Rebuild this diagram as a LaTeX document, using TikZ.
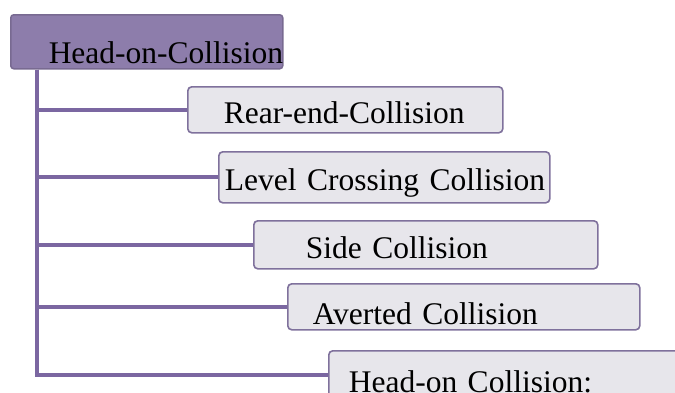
\documentclass[tikz,border=0pt]{standalone}
\usepackage{fontspec}
\setmainfont{Liberation Serif}
\usetikzlibrary{positioning}
\definecolor{trunkpurple}{HTML}{7B67A1}
\definecolor{headfill}{HTML}{8D7DAB}
\definecolor{boxfill}{HTML}{E7E6EB}
\definecolor{boxline}{HTML}{7F719C}

\begin{document}
\begin{tikzpicture}[x=1pt,y=-1pt,%
	rootbox/.style={draw=headfill!85!black,fill=headfill,rounded corners=3pt,line width=1.5pt,anchor=north west,align=left,inner ysep=0pt,font=\fontsize{31.5}{36}\selectfont},
	branch/.style={draw=boxline,fill=boxfill,rounded corners=4pt,line width=1.6pt,anchor=north west,align=left,inner ysep=0pt,font=\fontsize{31.5}{36}\selectfont},
	tree/.style={trunkpurple,line width=4pt}]

	\useasboundingbox (0,0) rectangle (675,392);
	\clip (0,0) rectangle (675,392);

	\node[rootbox,inner xsep=38pt,text width=196pt,text height=49pt,text depth=5pt](root) at (10,14) {\mbox{Head-on-Collision}};

	% boxes: name/left/top/width/text offset/text height/text depth/text
	\foreach \nm/\bx/\by/\bw/\tx/\th/\td/\txt in {%
		rear/187/86/315/36/37/9/Rear-end-Collision,%
		level/218/151/331/6/39/12/Level Crossing Collision,%
		side/253/220/344/52/38/10/Side Collision,%
		averted/287/283/352/25/41/5/Averted Collision,%
		headon/328/350/400/20/42/30/Head-on Collision:%
	} { \pgfmathsetmacro\tw{\bw-2*\tx}
	    \node[branch,inner xsep=\tx pt,text width=\tw pt,text height=\th pt,text depth=\td pt](\nm) at (\bx,\by) {\mbox{\txt}};
	}

	\coordinate (trunktop) at ([xshift=27pt]root.south west);
	\foreach \nm in {rear,level,side,averted}
		\draw[tree] (trunktop) |- (\nm.west);
	\draw[tree] (trunktop) |- ([yshift=-25pt]headon.north west);
\end{tikzpicture}
\end{document}
